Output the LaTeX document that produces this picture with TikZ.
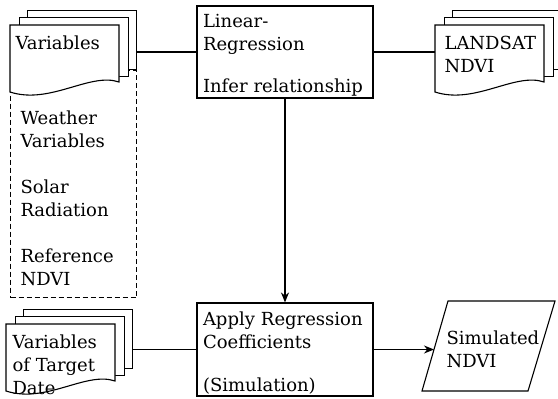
\documentclass[tikz,border=0pt]{standalone}
\usepackage{fontspec}
\setmainfont{DejaVu Serif}
\usetikzlibrary{arrows.meta}

% stack of three sheets, front sheet with a wavy bottom
\newcommand{\docstack}[3]{%
	\node[sheet] (#1-back) at (#2+17,#3-15) {};
	\node[sheet] (#1-mid) at (#2+8.5,#3-8) {};
	\draw[fill=white] (#2,#3) -- (#2+109,#3) -- (#2+109,#3+57)
		.. controls (#2+80,#3+47) and (#2+40,#3+80) .. (#2,#3+67) -- cycle;
	\coordinate (#1) at (#2,#3+28);
}

\begin{document}
\begin{tikzpicture}[x=1pt, y=-1pt, >={Stealth[length=10pt,width=8pt]}, line width=1.1pt, font=\fontsize{18pt}{23pt}\selectfont]
				\tikzstyle{sheet} = [draw, fill=white, minimum width=109pt, minimum height=59pt, inner sep=0pt, anchor=north west];
				\tikzstyle{box} = [draw, rectangle, text width=164pt, align=left, inner xsep=6pt, inner ysep=1pt, minimum height=92pt];
				\tikzstyle{txt} = [align=left, inner sep=0pt, anchor=west];
				\useasboundingbox (0,0) rectangle (558,399);
				\clip (0,0) rectangle (558,399);
				
				\node[draw, dash pattern=on 5pt off 3pt, minimum width=126pt, minimum height=227pt, inner sep=0pt, anchor=north west] (inputs) at (10,70) {};
				\node[txt] (inputstxt) at (20,198.5) {Weather\\Variables\\[23pt]Solar\\Radiation\\[23pt]Reference\\NDVI};
				
				\docstack{vars}{10}{25}
				\node[txt] (varstxt) at (15,43) {Variables};
				
				\docstack{landsat}{435}{25}
				\node[txt] (landsattxt) at (444,54) {LANDSAT\\NDVI};
				
				\docstack{target}{6}{324}
				\node[txt] (targettxt) at (12,365) {Variables\\of Target\\Date};
				
				\node[box] (lin) at (285,52) {\rule{0pt}{20pt}Linear-\\Regression\\[19pt]Infer relationship};
				\node[box, minimum height=93pt] (apply) at (285,349.5) {\rule{0pt}{20pt}Apply Regression\\Coefficients\\[20pt](Simulation)};
				
				% output parallelogram
				\draw (422,391) -- (448,301) -- (555,301) -- (528,391) -- cycle;
				\coordinate (simin) at (434,349.5);
				\node[txt] (sim) at (446,349) {Simulated\\NDVI};
				
				\draw (lin.west) -- (lin.west -| vars-back.east);
				\draw (lin.east) -- (lin.east -| landsat);
				\draw[->] (lin) -- (apply);
				\draw (apply.west) -- (apply.west -| target-back.east);
				\draw[->] (apply.east) -- (simin);
			\end{tikzpicture}
\end{document}
